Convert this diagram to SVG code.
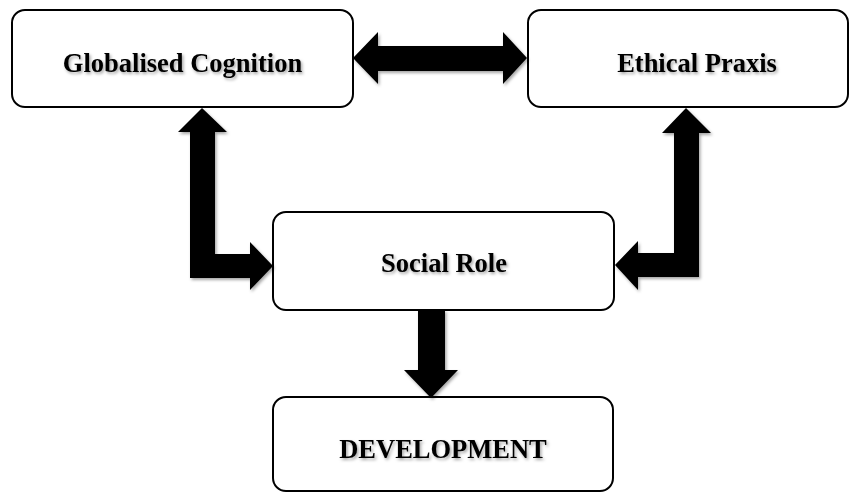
<svg xmlns="http://www.w3.org/2000/svg" width="858" height="493" viewBox="0 0 858 493">
  <defs>
    <filter id="sh" x="-20%" y="-20%" width="140%" height="140%">
      <feDropShadow dx="1.5" dy="2" stdDeviation="1.5" flood-color="#000" flood-opacity="0.35"/>
    </filter>
    <style>
      .box { fill: #fff; stroke: #000; stroke-width: 2; }
      .lbl { font-family: "Liberation Serif", "Times New Roman", serif; font-weight: bold; font-size: 26.5px; fill: #000; text-anchor: middle; filter: url(#sh); }
      .arr { fill: #000; filter: url(#sh); }
    </style>
  </defs>
  <rect width="858" height="493" fill="#fff"/>
  <g id="globalised-cognition">
    <rect class="box" x="12" y="10" width="341" height="97" rx="13"/>
    <text class="lbl" x="182.5" y="72">Globalised Cognition</text>
  </g>
  <g id="ethical-praxis">
    <rect class="box" x="528" y="10" width="320" height="97" rx="13"/>
    <text class="lbl" x="697" y="72">Ethical Praxis</text>
  </g>
  <g id="social-role">
    <rect class="box" x="273" y="212" width="341" height="98" rx="13"/>
    <text class="lbl" x="444" y="272">Social Role</text>
  </g>
  <g id="development">
    <rect class="box" x="273" y="397" width="340" height="94" rx="13"/>
    <text class="lbl" x="443" y="458">DEVELOPMENT</text>
  </g>
  <g id="connectors">
    <polygon class="arr" points="353,58 378,32 378,46 503,46 503,32 527,58 503,84 503,71 378,71 378,84"/>
    <polygon class="arr" points="202,108 227,132 215,132 215,254 250,254 250,242 273,266 250,290 250,278 190,278 190,132 178,132"/>
    <polygon class="arr" points="686,108 711,133 699,133 699,277 638,277 638,290 615,265 638,241 638,253 674,253 674,133 662,133"/>
    <polygon class="arr" points="418,310 445,310 445,370 458,370 431,398 404,370 418,370"/>
  </g>
</svg>
